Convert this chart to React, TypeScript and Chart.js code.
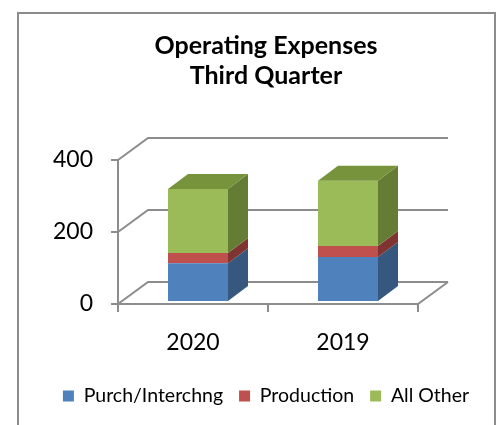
import React, { useEffect, useRef } from 'react';
import { Chart, registerables } from 'chart.js';

Chart.register(...registerables);

// ---- data ----
const categories = ['2020', '2019'];
const seriesNames = ['Purch/Interchng', 'Production', 'All Other'];
const purchInterchng = [105, 122];
const production = [28, 31];
const allOther = [178, 181];
const yTicks = [0, 200, 400];
const titleLines = ['Operating Expenses', 'Third Quarter'];

// ---- styles ----
const frontColors = ['#4F81BD', '#C0504D', '#9BBB59'];
const sideColors = ['#36587F', '#7F3432', '#657C35'];
const topColors = ['#45689A', '#98403D', '#77933C'];
const GRID = '#8C8C8C';
const FONT = 'Lato';

// oblique projection offsets
const AX = -5; // front axis plane vs bar plane (x)
const AY = 3; // (y)
const WX = 30; // back wall depth (x)
const WY = -22; // (y)
const BX = 20; // bar depth (x)
const BY = -15; // (y)

const fake3d = {
  id: 'fake3d',
  beforeDraw(chart: any) {
    const ctx = chart.ctx;
    ctx.save();
    ctx.fillStyle = '#ffffff';
    ctx.fillRect(0, 0, chart.width, chart.height);
    ctx.strokeStyle = GRID;
    ctx.lineWidth = 2;
    ctx.strokeRect(18, 13, 477, 440);
    ctx.restore();
  },
  beforeDatasetsDraw(chart: any) {
    const { ctx } = chart;
    const x = chart.scales.x;
    const y = chart.scales.y;
    const fx0 = x.left + AX;
    const fx1 = x.right + AX;
    const p0 = y.getPixelForValue(yTicks[0]) + AY;
    const pTop = y.getPixelForValue(yTicks[yTicks.length - 1]) + AY;
    ctx.save();
    ctx.strokeStyle = GRID;
    ctx.lineWidth = 2;
    ctx.beginPath();
    yTicks.forEach((v) => {
      const py = y.getPixelForValue(v) + AY;
      ctx.moveTo(fx0 - 7, py);
      ctx.lineTo(fx0, py);
      ctx.moveTo(fx0, py);
      ctx.lineTo(fx0 + WX, py + WY);
      ctx.lineTo(fx1 + WX, py + WY);
    });
    // front vertical axis
    ctx.moveTo(fx0, pTop);
    ctx.lineTo(fx0, p0 + 8);
    // floor front + right edge
    ctx.moveTo(fx0, p0);
    ctx.lineTo(fx1, p0);
    ctx.lineTo(fx1 + WX, p0 + WY);
    // category ticks
    const n = categories.length;
    for (let i = 0; i <= n; i++) {
      const px = x.left + (x.width * i) / n + AX;
      ctx.moveTo(px, p0);
      ctx.lineTo(px, p0 + 8);
    }
    ctx.stroke();
    ctx.restore();
  },
  afterDatasetsDraw(chart: any) {
    const { ctx } = chart;
    const last = chart.data.datasets.length - 1;
    ctx.save();
    chart.data.datasets.forEach((_ds: any, di: number) => {
      const meta = chart.getDatasetMeta(di);
      meta.data.forEach((bar: any) => {
        const { x: bx, y: by, base, width } = bar.getProps(['x', 'y', 'base', 'width'], true);
        const l = bx - width / 2;
        const r = bx + width / 2;
        const top = Math.min(by, base);
        const bot = Math.max(by, base);
        ctx.fillStyle = sideColors[di];
        ctx.beginPath();
        ctx.moveTo(r, top);
        ctx.lineTo(r + BX, top + BY);
        ctx.lineTo(r + BX, bot + BY);
        ctx.lineTo(r, bot);
        ctx.closePath();
        ctx.fill();
        if (di === last) {
          ctx.fillStyle = topColors[di];
          ctx.beginPath();
          ctx.moveTo(l, top);
          ctx.lineTo(l + BX, top + BY);
          ctx.lineTo(r + BX, top + BY);
          ctx.lineTo(r, top);
          ctx.closePath();
          ctx.fill();
        }
      });
    });
    ctx.restore();
  },
};

export default function App() {
  const ref = useRef<HTMLCanvasElement | null>(null);

  useEffect(() => {
    if (!ref.current) return;
    const seriesValues = [purchInterchng, production, allOther];
    const chart = new Chart(ref.current, {
      type: 'bar',
      data: {
        labels: categories,
        datasets: seriesNames.map((name, i) => ({
          label: name,
          data: seriesValues[i],
          backgroundColor: frontColors[i],
          borderWidth: 0,
          barPercentage: 0.4,
          categoryPercentage: 1.0,
        })),
      },
      options: {
        responsive: false,
        animation: false,
        layout: { padding: { left: 34, right: 0, top: 0, bottom: 9.25 } },
        font: { family: FONT },
        plugins: {
          title: {
            display: true,
            text: titleLines,
            color: '#000000',
            font: { family: FONT, size: 25, weight: 'bold', lineHeight: 1.2 },
            padding: { top: 31, bottom: 66 },
          },
          legend: {
            position: 'bottom',
            labels: {
              boxWidth: 11,
              boxHeight: 11,
              padding: 16,
              color: '#000000',
              font: { family: FONT, size: 19.5 },
            },
          },
          tooltip: { enabled: false },
        },
        scales: {
          x: {
            stacked: true,
            grid: { display: false, drawTicks: false },
            border: { display: false },
            ticks: {
              color: '#000000',
              font: { family: FONT, size: 23 },
              padding: 28,
              labelOffset: AX,
            },
            afterFit: (s: any) => {
              s.height = 69.25;
            },
          },
          y: {
            stacked: true,
            min: yTicks[0],
            max: yTicks[yTicks.length - 1],
            grid: { display: false, drawTicks: false },
            border: { display: false },
            afterBuildTicks: (s: any) => {
              s.ticks = yTicks.map((v) => ({ value: v }));
            },
            ticks: {
              color: '#000000',
              font: { family: FONT, size: 23 },
              padding: 30,
              labelOffset: AY,
            },
            afterFit: (s: any) => {
              s.width = 89;
            },
          },
          yR: {
            type: 'linear',
            position: 'right',
            display: true,
            grid: { display: false, drawTicks: false },
            border: { display: false },
            ticks: { display: false },
            afterFit: (s: any) => {
              s.width = 75;
            },
          },
        },
      } as any,
      plugins: [fake3d],
    });
    return () => chart.destroy();
  }, []);

  return (
    <div style={{ position: 'absolute', left: 0, top: 0, width: 498, height: 425 }}>
      <canvas ref={ref} width={498} height={425} style={{ display: 'block' }} />
    </div>
  );
}
